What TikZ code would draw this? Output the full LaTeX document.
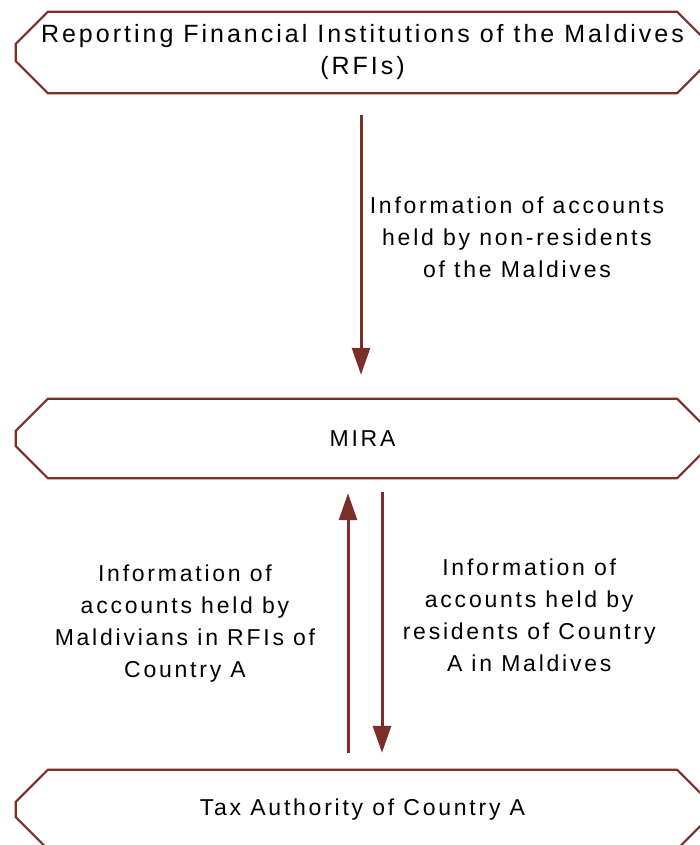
\documentclass[tikz,border=0pt]{standalone}
\usepackage{fontspec}
\setmainfont{Liberation Sans}[LetterSpace=12]
\usetikzlibrary{arrows.meta,positioning}
\definecolor{rust}{RGB}{122,48,40}
% outline with cut corners round a named node
\newcommand{\rim}[1]{\draw[edge] ([xshift=32pt]#1.north west) -- ([xshift=-32pt]#1.north east) -- ([yshift=-32pt]#1.north east) -- ([yshift=32pt]#1.south east) -- ([xshift=-32pt]#1.south east) -- ([xshift=32pt]#1.south west) -- ([yshift=32pt]#1.south west) -- ([yshift=-32pt]#1.north west) -- cycle;}

\begin{document}
\begin{tikzpicture}[x=1pt,y=1pt,>={Triangle[length=27pt,width=18pt]},
party/.style={minimum width=693pt,align=center,inner sep=0pt,font=\fontsize{23}{32}\selectfont},
edge/.style={draw=rust,line width=2.2pt,line join=miter},
flow/.style={->,draw=rust,line width=3pt},
note/.style={align=center,font=\fontsize{23}{32}\selectfont}]
\path[use as bounding box] (0,0) rectangle (700,845);
\clip (0,0) rectangle (700,845);
\node[party,minimum height=81pt,font=\fontsize{25}{32}\selectfont] (rfi) at (362.5,792.5) {Reporting Financial Institutions of the Maldives\\(RFIs)};
\node[party,minimum height=79pt] (mira) at (362.5,406.5) {MIRA};
\node[party,minimum height=79pt] (tax) at (362.5,35.5) {Tax Authority of Country A};
\rim{rfi}
\rim{mira}
\rim{tax}
\draw[flow,shorten <=22pt,shorten >=24pt] ([xshift=-1.5pt]rfi.south) -- node[note,right=4pt,yshift=9pt] {Information of accounts\\held by non-residents\\of the Maldives} ([xshift=-1.5pt]mira.north);
\draw[flow,shorten <=17pt,shorten >=15pt] ([xshift=-14.5pt]tax.north) -- node[note,left=28pt] {Information of\\accounts held by\\Maldivians in RFIs of\\Country A} ([xshift=-14.5pt]mira.south);
\draw[flow,shorten <=14pt,shorten >=17pt] ([xshift=19.5pt]mira.south) -- node[note,right=16pt,yshift=9pt] {Information of\\accounts held by\\residents of Country\\A in Maldives} ([xshift=19.5pt]tax.north);
\end{tikzpicture}
\end{document}
